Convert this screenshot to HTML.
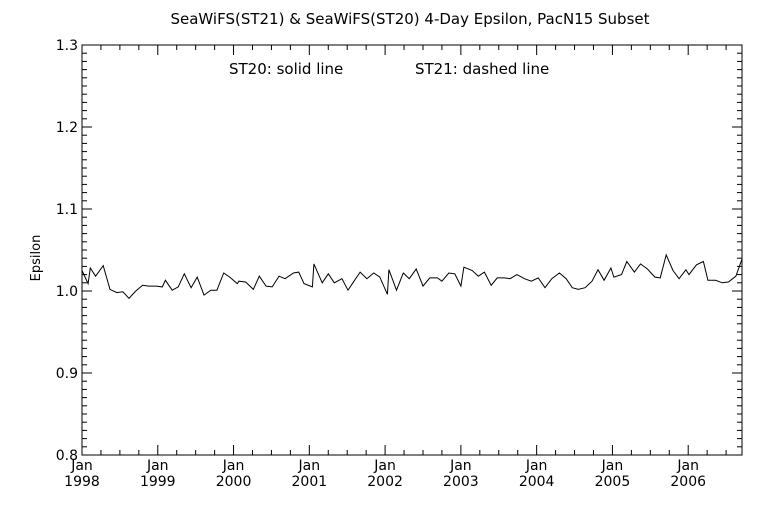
<!DOCTYPE html>
<html><head><meta charset="utf-8"><style>
body{margin:0;background:#fff;}
svg text{font-family:"DejaVu Sans","Liberation Sans",sans-serif;fill:#000;}
</style></head><body>
<svg width="768" height="512" id="c">
<rect width="768" height="512" fill="#fff"/>
<text x="410" y="24" font-size="15" text-anchor="middle">SeaWiFS(ST21) &amp; SeaWiFS(ST20) 4-Day Epsilon, PacN15 Subset</text>
<text x="229" y="74" font-size="15">ST20: solid line</text>
<text x="415" y="74" font-size="15">ST21: dashed line</text>
<text x="0" y="0" font-size="13" text-anchor="middle" transform="translate(40,258) rotate(-90)">Epsilon</text>
<rect x="82" y="45" width="660" height="410" fill="none" stroke="#000" stroke-width="1"/>
<g id="ax"></g>
<polyline id="st20" fill="none" stroke="#000" stroke-width="1"/>
</svg>
<script>
const years=[1998.0,1998.08,1998.11,1998.18,1998.28,1998.37,1998.46,1998.54,1998.62,1998.71,1998.80,1998.88,1998.98,1999.06,1999.10,1999.19,1999.27,1999.35,1999.44,1999.52,1999.61,1999.70,1999.78,1999.87,1999.95,2000.05,2000.07,2000.16,2000.26,2000.34,2000.43,2000.51,2000.60,2000.68,2000.79,2000.86,2000.93,2001.04,2001.06,2001.17,2001.25,2001.33,2001.43,2001.51,2001.59,2001.67,2001.76,2001.85,2001.93,2002.03,2002.05,2002.15,2002.24,2002.32,2002.41,2002.50,2002.59,2002.69,2002.75,2002.84,2002.92,2003.00,2003.04,2003.15,2003.23,2003.31,2003.40,2003.48,2003.57,2003.65,2003.74,2003.84,2003.93,2004.02,2004.11,2004.20,2004.30,2004.39,2004.47,2004.55,2004.64,2004.73,2004.81,2004.89,2004.98,2005.02,2005.12,2005.19,2005.29,2005.37,2005.46,2005.56,2005.63,2005.71,2005.80,2005.88,2005.97,2006.01,2006.11,2006.20,2006.26,2006.36,2006.45,2006.53,2006.63,2006.71];
const st20=[1.025,1.009,1.028,1.018,1.031,1.002,0.998,0.999,0.991,1.000,1.007,1.006,1.006,1.005,1.013,1.001,1.005,1.021,1.004,1.017,0.995,1.001,1.001,1.022,1.017,1.009,1.012,1.011,1.002,1.018,1.006,1.005,1.018,1.015,1.022,1.023,1.009,1.005,1.033,1.010,1.021,1.010,1.015,1.001,1.012,1.023,1.015,1.022,1.017,0.996,1.026,1.001,1.022,1.015,1.027,1.006,1.016,1.016,1.012,1.022,1.021,1.006,1.029,1.025,1.018,1.023,1.007,1.016,1.016,1.015,1.020,1.015,1.012,1.016,1.004,1.015,1.022,1.015,1.004,1.002,1.004,1.012,1.026,1.013,1.028,1.017,1.020,1.036,1.023,1.033,1.027,1.017,1.016,1.044,1.025,1.015,1.026,1.020,1.032,1.036,1.013,1.013,1.010,1.011,1.018,1.039];
const yTicks=["0.8","0.9","1.0","1.1","1.2","1.3"];
const xYears=["1998","1999","2000","2001","2002","2003","2004","2005","2006"];
const X0=82,X1=742,Y0=455,Y1=45,xmin=1998,xmax=2006.71,ymin=0.8,ymax=1.3;
const sx=v=>X0+(v-xmin)/(xmax-xmin)*(X1-X0);
const sy=v=>Y0-(v-ymin)/(ymax-ymin)*(Y0-Y1);
const NS="http://www.w3.org/2000/svg";
const ax=document.getElementById('ax');
function ln(x1,y1,x2,y2,name){const l=document.createElementNS(NS,'line');
l.setAttribute('x1',x1);l.setAttribute('y1',y1);l.setAttribute('x2',x2);l.setAttribute('y2',y2);l.setAttribute('stroke','#000');


ax.appendChild(l);}
function tx(x,y,s,anchor,name){const t=document.createElementNS(NS,'text');
t.setAttribute('x',x);t.setAttribute('y',y);t.setAttribute('font-size','14');t.setAttribute('text-anchor',anchor);t.textContent=s;


ax.appendChild(t);}
for(let i=0;i<=50;i++){const v=ymin+i*0.01;const y=sy(v);const major=i%10===0;const L=major?10:5;
ln(X0,y,X0+L,y,'y-tick');ln(X1,y,X1-L,y,'y-tick-right');}
yTicks.forEach(s=>tx(X0-4,sy(parseFloat(s))+5,s,'end','y-tick-label'));
for(let m=0;m<=105;m+=3){const v=xmin+m/12;if(v>xmax)break;const x=sx(v);const major=m%12===0;const L=major?10:5;
ln(x,Y0,x,Y0-L,'x-tick');ln(x,Y1,x,Y1+L,'x-tick-top');}
xYears.forEach(s=>{const x=sx(parseFloat(s));tx(x,470,'Jan','middle','x-tick-month');tx(x,486,s,'middle','x-tick-year');});
document.getElementById('st20').setAttribute('points',years.map((y,i)=>sx(y).toFixed(1)+','+sy(st20[i]).toFixed(1)).join(' '));
</script>
</body></html>
